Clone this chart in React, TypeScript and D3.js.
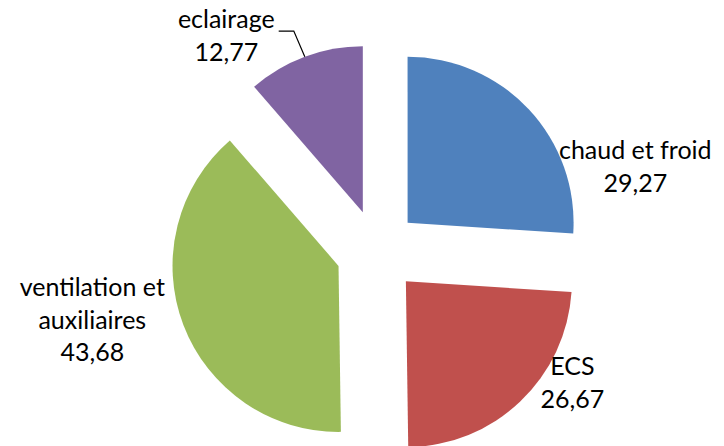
import { useEffect, useRef } from 'react';
import * as d3 from 'd3';

// Chart data
const categories = ['chaud et froid', 'ECS', 'ventilation et\nauxiliaires', 'eclairage'];
const values = [29.27, 26.67, 43.68, 12.77];
const valueLabels = ['29,27', '26,67', '43,68', '12,77'];
const colors = ['#4F81BD', '#C0504D', '#9BBB59', '#8064A2'];

interface Slice {
  name: string;
  value: number;
  label: string;
  color: string;
}

// label anchors relative to the pie centre (x centre, first baseline)
const labelOffsets: [number, number][] = [
  [258, -92],
  [195, 124],
  [-285, 45],
  [-151, -223],
];

const App = () => {
  const svgRef = useRef<SVGSVGElement>(null);

  useEffect(() => {
    if (!svgRef.current) return;
    d3.select(svgRef.current).selectAll('*').remove();

    const width = 724;
    const height = 446;
    const radius = 166;
    const explode = radius * 0.25;
    const cx = 377.3;
    const cy = 251.1;
    const lineHeight = 32.5;

    const data: Slice[] = categories.map((name, i) => ({
      name,
      value: values[i],
      label: valueLabels[i],
      color: colors[i],
    }));

    const svg = d3.select(svgRef.current)
      .attr('width', width)
      .attr('height', height);

    const g = svg.append('g').attr('transform', `translate(${cx},${cy})`);

    const pie = d3.pie<Slice>().sort(null).value(d => d.value);
    const arcs = pie(data);
    const arc = d3.arc<d3.PieArcDatum<Slice>>().innerRadius(0).outerRadius(radius);

    const shift = (d: d3.PieArcDatum<Slice>, dist: number): [number, number] => {
      const mid = (d.startAngle + d.endAngle) / 2;
      return [Math.sin(mid) * dist, -Math.cos(mid) * dist];
    };

    // slices, pulled out from the centre
    g.selectAll('.slice')
      .data(arcs)
      .join('path')
      .attr('class', 'slice')
      .attr('d', arc)
      .attr('fill', d => d.data.color)
      .attr('transform', d => `translate(${shift(d, explode)})`);

    // labels
    const labels = g.selectAll('.label')
      .data(arcs)
      .join('text')
      .attr('class', 'label')
      .attr('text-anchor', 'middle')
      .attr('font-family', 'Lato, sans-serif')
      .attr('font-size', 25)
      .attr('fill', '#000');

    labels.each(function (d, i) {
      const t = d3.select(this);
      const [lx, ly] = labelOffsets[i];
      const lines = [...d.data.name.split('\n'), d.data.label];
      lines.forEach((line, j) => {
        t.append('tspan')
          .attr('x', lx)
          .attr('y', ly + j * lineHeight)
          .text(line);
      });
    });

    // leader line for the small slice
    const small = arcs[3];
    const firstLine = labels.filter((_, i) => i === 3).select('tspan').node() as SVGTSpanElement;
    const [lx, ly] = labelOffsets[3];
    const textEnd = lx + firstLine.getComputedTextLength() / 2 + 4;
    const [ex, ey] = shift(small, explode);
    const [ax, ay] = shift(small, radius);
    const tipX = ex + ax;
    const tipY = ey + ay;
    const elbowY = ly + 3;
    g.append('path')
      .attr('d', `M${textEnd},${elbowY}H${tipX - 11}L${tipX},${tipY}`)
      .attr('fill', 'none')
      .attr('stroke', '#000')
      .attr('stroke-width', 1.2);
  }, []);

  return (
    <svg ref={svgRef} style={{ position: 'absolute', left: 0, top: 0 }}></svg>
  );
};

export default App;
